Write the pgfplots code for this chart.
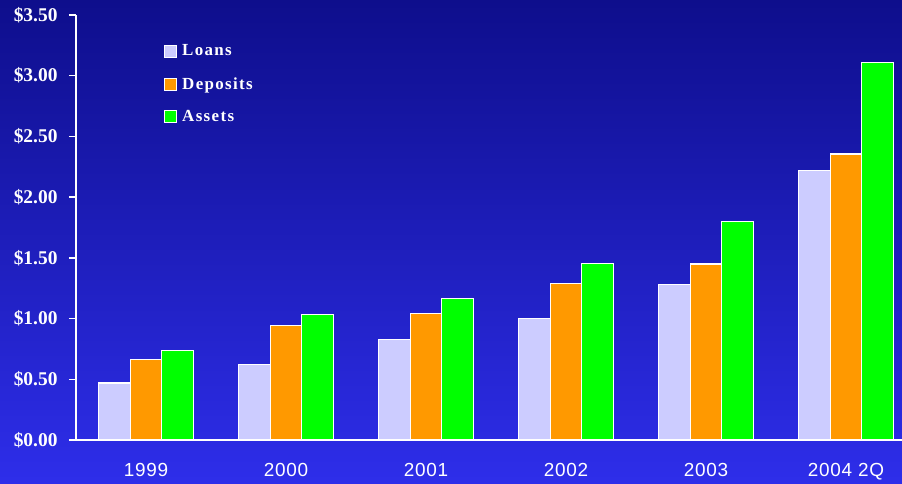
\documentclass[border=0pt]{standalone}
\usepackage{pgfplots}
\pgfplotsset{compat=1.18}
\usepackage{fontspec}
\setmainfont{Liberation Serif}
\newfontfamily\tickserif{Liberation Serif}
\newfontfamily\legfont[LetterSpace=8]{Liberation Serif}
\newfontfamily\xfont[LetterSpace=4]{Liberation Sans}

\definecolor{bgtop}{RGB}{14,14,140}
\definecolor{bgmid}{RGB}{30,30,200}
\definecolor{bgbot}{RGB}{46,46,234}
\definecolor{loanc}{RGB}{204,204,255}
\definecolor{depc}{RGB}{255,153,0}
\definecolor{assc}{RGB}{0,255,0}

\pgfplotsset{
  legbox/.style={legend image code/.code={%
    \draw[##1,draw=white,line width=1bp] (0bp,-6bp) rectangle (12bp,6bp);}},
}

\begin{document}
\begin{tikzpicture}[x=1bp,y=1bp]
\useasboundingbox (0,0) rectangle (902,484);
\shade[top color=bgtop, middle color=bgmid, bottom color=bgbot] (0,0) rectangle (902,484);
\begin{axis}[
  at={(76bp,44bp)}, anchor=south west,
  scale only axis, width=826bp, height=425bp,
  xmin=-0.5, xmax=5.4, ymin=0, ymax=3.5,
  axis x line*=bottom, axis y line*=left,
  axis line style={white, line width=1.5bp, -},
  ybar=0pt, bar width=31.5bp,
  tick align=outside,
  xtick={0,...,5},
  xticklabels={1999,2000,2001,2002,2003,2004 2Q},
  x tick style={draw=none},
  extra x ticks={-0.5,0.5,1.5,2.5,3.5,4.5},
  extra x tick labels={},
  extra x tick style={major tick length=5bp, tick style={white, line width=1.5bp}},
  xticklabel style={font=\xfont\fontsize{19}{19}\selectfont, white, yshift=-13bp},
  ytick={0,0.5,...,3.5},
  yticklabels={\$0.00,\$0.50,\$1.00,\$1.50,\$2.00,\$2.50,\$3.00,\$3.50},
  y tick style={white, line width=1.5bp},
  major tick length=7bp,
  yticklabel style={font=\tickserif\bfseries\fontsize{19.5}{19.5}\selectfont, white, xshift=-8bp},
  legend style={at={(0.1065,0.935)}, anchor=north west, draw=none, fill=none,
    text=white, font=\legfont\bfseries\fontsize{17}{17}\selectfont,
    row sep=16bp, inner sep=0pt,
    /tikz/every even column/.append style={column sep=4bp}},
  legend cell align=left,
]
\addplot[fill=loanc, draw=white, line width=1.2bp, legbox]
  coordinates {(0,0.47) (1,0.62) (2,0.83) (3,1.00) (4,1.28) (5,2.22)};
\addplot[fill=depc, draw=white, line width=1.2bp, legbox]
  coordinates {(0,0.665) (1,0.94) (2,1.04) (3,1.29) (4,1.45) (5,2.355)};
\addplot[fill=assc, draw=white, line width=1.2bp, legbox]
  coordinates {(0,0.735) (1,1.035) (2,1.165) (3,1.455) (4,1.80) (5,3.11)};
\legend{\hspace{3bp}Loans,\hspace{3bp}Deposits,\hspace{3bp}Assets}
\end{axis}
\end{tikzpicture}
\end{document}
